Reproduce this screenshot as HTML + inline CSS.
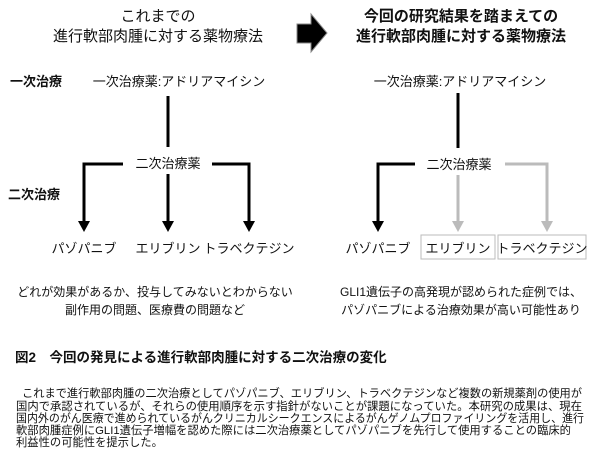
<!DOCTYPE html>
<html><head><meta charset="utf-8"><style>
body{margin:0;background:#fff;}
svg text{font-family:"Liberation Sans","Noto Sans CJK JP",sans-serif;fill:#111;}
</style></head><body>
<svg width="600" height="462" viewBox="0 0 600 462" xmlns="http://www.w3.org/2000/svg">
<rect width="600" height="462" fill="#fff"/>
<text x="158" y="21" font-size="15" text-anchor="middle">これまでの</text>
<text x="158" y="41" font-size="15" text-anchor="middle">進行軟部肉腫に対する薬物療法</text>
<text x="461" y="21" font-size="15" font-weight="bold" text-anchor="middle">今回の研究結果を踏まえての</text>
<text x="461" y="41" font-size="15" font-weight="bold" text-anchor="middle">進行軟部肉腫に対する薬物療法</text>
<polygon points="297,24 311,24 311,14 327,33 311,52 311,43 297,43" fill="#000" stroke="#888" stroke-width="1"/>
<text x="10" y="86" font-size="13" font-weight="bold">一次治療</text>
<text x="8" y="199" font-size="13" font-weight="bold">二次治療</text>
<text x="179" y="86" font-size="13" text-anchor="middle">一次治療薬:アドリアマイシン</text>
<line x1="168" y1="96" x2="168" y2="147" stroke="#000" stroke-width="3"/>
<text x="168" y="168" font-size="13" text-anchor="middle">二次治療薬</text>
<polyline points="123,164 84,164 84,222" fill="none" stroke="#000" stroke-width="3"/>
<polygon points="78,221 90,221 84,232" fill="#000"/>
<line x1="168" y1="174" x2="168" y2="222" stroke="#000" stroke-width="3"/>
<polygon points="162,221 174,221 168,232" fill="#000"/>
<polyline points="212,164 249,164 249,222" fill="none" stroke="#000" stroke-width="3"/>
<polygon points="243,221 255,221 249,232" fill="#000"/>
<text x="84" y="253" font-size="13" text-anchor="middle">パゾパニブ</text>
<text x="168" y="253" font-size="13" text-anchor="middle">エリブリン</text>
<text x="249" y="253" font-size="13" text-anchor="middle">トラベクテジン</text>
<text x="155" y="296" font-size="12" text-anchor="middle">どれが効果があるか、投与してみないとわからない</text>
<text x="155" y="314" font-size="12" text-anchor="middle">副作用の問題、医療費の問題など</text>
<text x="460" y="86" font-size="13" text-anchor="middle">一次治療薬:アドリアマイシン</text>
<line x1="458" y1="93" x2="458" y2="148" stroke="#000" stroke-width="3"/>
<text x="459" y="169" font-size="13" text-anchor="middle">二次治療薬</text>
<polyline points="415,164 378,164 378,222" fill="none" stroke="#000" stroke-width="3"/>
<polygon points="372,221 384,221 378,232" fill="#000"/>
<line x1="458" y1="175" x2="458" y2="222" stroke="#bbb" stroke-width="3"/>
<polygon points="452,221 464,221 458,232" fill="#bbb"/>
<polyline points="505,164 547,164 547,222" fill="none" stroke="#bbb" stroke-width="3"/>
<polygon points="541,221 553,221 547,232" fill="#bbb"/>
<text x="378" y="253" font-size="13" text-anchor="middle">パゾパニブ</text>
<rect x="421" y="235" width="74" height="24" fill="none" stroke="#bbb" stroke-width="1"/>
<text x="458" y="253" font-size="13" text-anchor="middle">エリブリン</text>
<rect x="498" y="235" width="88" height="24" fill="none" stroke="#bbb" stroke-width="1"/>
<text x="542" y="253" font-size="13" text-anchor="middle">トラベクテジン</text>
<text x="461" y="296" font-size="12" text-anchor="middle">GLI1遺伝子の高発現が認められた症例では、</text>
<text x="461" y="314" font-size="12" text-anchor="middle">パゾパニブによる治療効果が高い可能性あり</text>
<text x="15" y="362" font-size="13.5" font-weight="bold">図2　今回の発見による進行軟部肉腫に対する二次治療の変化</text>
<g font-size="11.3">
<text x="22" y="397" textLength="560" lengthAdjust="spacingAndGlyphs">これまで進行軟部肉腫の二次治療としてパゾパニブ、エリブリン、トラベクテジンなど複数の新規薬剤の使用が</text>
<text x="16" y="410" textLength="566" lengthAdjust="spacingAndGlyphs">国内で承認されているが、それらの使用順序を示す指針がないことが課題になっていた。本研究の成果は、現在</text>
<text x="16" y="422" textLength="568" lengthAdjust="spacingAndGlyphs">国内外のがん医療で進められているがんクリニカルシークエンスによるがんゲノムプロファイリングを活用し、進行</text>
<text x="16" y="434" textLength="555" lengthAdjust="spacingAndGlyphs">軟部肉腫症例にGLI1遺伝子増幅を認めた際には二次治療薬としてパゾパニブを先行して使用することの臨床的</text>
<text x="16" y="446">利益性の可能性を提示した。</text>
</g>
</svg>
</body></html>
